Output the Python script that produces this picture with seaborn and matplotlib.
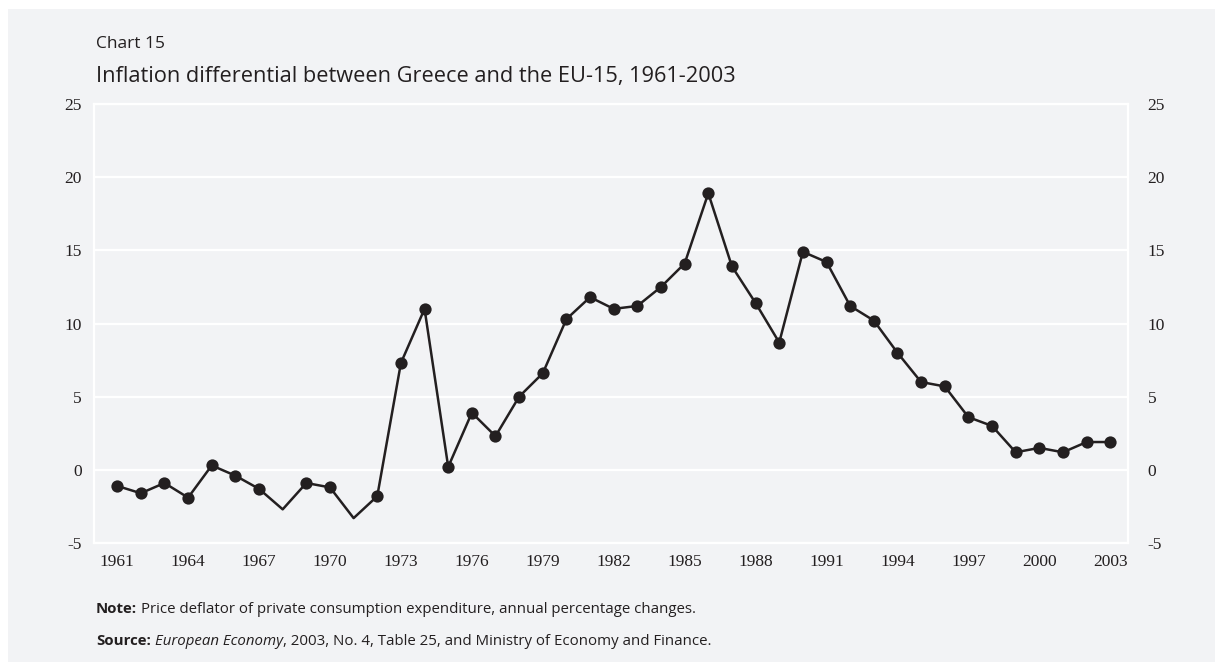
import matplotlib
matplotlib.use("Agg")
import matplotlib.pyplot as plt
import seaborn as sns
import pandas as pd
from matplotlib.patches import Rectangle

# data (annual % difference, Greece minus EU-15)
years = list(range(1961, 2004))
inflation_diff = [
    -1.1, -1.6, -0.9, -1.9, 0.3, -0.4, -1.3, -2.7, -0.9, -1.2,
    -3.3, -1.8, 7.3, 11.0, 0.2, 3.9, 2.3, 5.0, 6.6, 10.3,
    11.8, 11.0, 11.2, 12.5, 14.1, 18.9, 13.9, 11.4, 8.7, 14.9,
    14.2, 11.2, 10.2, 8.0, 6.0, 5.7, 3.6, 3.0, 1.2, 1.5,
    1.2, 1.9, 1.9,
]
no_marker_years = [1968, 1971]
x_ticks = list(range(1961, 2004, 3))
y_ticks = [-5, 0, 5, 10, 15, 20, 25]

chart_no = "Chart 15"
title = "Inflation differential between Greece and the EU-15, 1961-2003"
note_text = "Price deflator of private consumption expenditure, annual percentage changes."
source_italic = "European Economy"
source_rest = ", 2003, No. 4, Table 25, and Ministry of Economy and Finance."

BG = "#f2f3f5"
INK = "#231f20"

df = pd.DataFrame({"year": years, "value": inflation_diff})
pts = df[~df["year"].isin(no_marker_years)]

sns.set_style("white")
plt.rcParams["font.family"] = ["Open Sans", "DejaVu Sans"]
plt.rcParams["axes.unicode_minus"] = False

fig = plt.figure(figsize=(12.15, 6.62), dpi=100)
fig.patch.set_facecolor("white")
W, H = 1215, 662
fig.patches.append(Rectangle((8 / W, 0), 1, 1 - 9 / H, transform=fig.transFigure,
                             facecolor=BG, edgecolor="none", zorder=-10))

ax = fig.add_axes([94 / W, 1 - 543 / H, (1128 - 94) / W, (543 - 104) / H])
ax.set_facecolor(BG)

sns.lineplot(data=df, x="year", y="value", color=INK, linewidth=1.8, ax=ax, zorder=3)
sns.scatterplot(data=pts, x="year", y="value", color=INK, s=78, edgecolor=INK,
                linewidth=0, ax=ax, zorder=4)

ax.set_xlim(1960.02, 2003.75)
ax.set_ylim(-5, 25)
ax.set_xticks(x_ticks)
ax.set_yticks(y_ticks)
ax.set_xlabel("")
ax.set_ylabel("")

ax.grid(axis="y", color="white", linewidth=1.6, zorder=1)
ax.set_axisbelow(True)
for side in ["left", "right", "bottom", "top"]:
    ax.spines[side].set_color("white")
    ax.spines[side].set_linewidth(1.6)

tick_font = {"family": "Liberation Serif", "size": 12.5}
ax.tick_params(axis="x", direction="in", length=9.5, width=1.6, color="white",
               pad=8, labelcolor=INK)
ax.tick_params(axis="y", length=0, pad=9, labelcolor=INK)
for lbl in ax.get_xticklabels() + ax.get_yticklabels():
    lbl.set_fontproperties(tick_font)

ax2 = ax.twinx()
ax2.set_ylim(-5, 25)
ax2.set_yticks(y_ticks)
ax2.tick_params(axis="y", length=0, pad=14, labelcolor=INK)
for lbl in ax2.get_yticklabels():
    lbl.set_fontproperties(tick_font)
for side in ax2.spines:
    ax2.spines[side].set_visible(False)

fig.text(96 / W, 1 - 48 / H, chart_no, fontsize=12.5, color=INK, va="baseline")
fig.text(96 / W, 1 - 82 / H, title, fontsize=15.7, color=INK, va="baseline")

note_y = 1 - 613 / H
src_y = 1 - 645 / H
fs = 10.8
t = fig.text(96 / W, note_y, "Note:", fontsize=fs, weight="bold", color=INK, va="baseline")
fig.canvas.draw()
r = fig.canvas.get_renderer()
bb = t.get_window_extent(r)
fig.text(bb.x1 / W + 4 / W, note_y, note_text, fontsize=fs, color=INK, va="baseline")

t = fig.text(96 / W, src_y, "Source:", fontsize=fs, weight="bold", color=INK, va="baseline")
bb = t.get_window_extent(r)
t2 = fig.text(bb.x1 / W + 4 / W, src_y, source_italic, fontsize=fs, style="italic",
              color=INK, va="baseline")
bb2 = t2.get_window_extent(r)
fig.text(bb2.x1 / W, src_y, source_rest, fontsize=fs, color=INK, va="baseline")

fig.savefig("out.png", dpi=100, facecolor=fig.get_facecolor())
